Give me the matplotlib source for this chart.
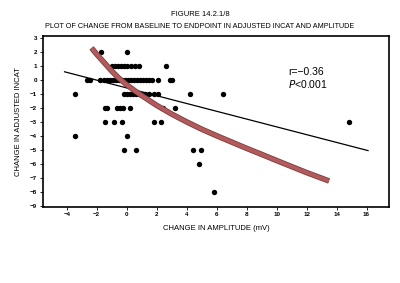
import matplotlib
matplotlib.use("Agg")
import matplotlib.pyplot as plt
import numpy as np

# Scatter points, grouped by INCAT change (y rows)
row_values = [2, 1, 0, -1, -2, -3, -4, -5, -6, -8]
row_x = [
    [-1.73, 0.0],
    [-1.0, -0.8, -0.6, -0.35, -0.15, 0.0, 0.3, 0.55, 0.8, 2.6],
    [-2.65, -2.45, -1.8, -1.5, -1.3, -1.1, -0.9, -0.7, -0.5, -0.3, -0.1, 0.1,
     0.3, 0.5, 0.7, 0.9, 1.1, 1.3, 1.5, 1.7, 2.1, 2.9, 3.0],
    [-3.45, -0.2, 0.0, 0.2, 0.4, 0.6, 0.8, 1.0, 1.2, 1.5, 1.8, 2.1, 4.2, 6.45],
    [-1.45, -1.3, -0.67, -0.45, -0.22, 0.22, 2.4, 3.2],
    [-1.45, -0.83, -0.33, 1.8, 2.3, 14.8],
    [-3.45, 0.0],
    [-0.2, 0.6, 4.45, 4.95],
    [4.85],
    [5.8],
]

# linear regression line endpoints
fit_x = [-4.15, 16.1]
fit_y = [0.6, -5.03]

# fitted curve
curve_x = [-2.35, -2.0, -1.5, -1.0, -0.5, 0.0, 0.5, 1.0, 1.5, 2.0, 3.0, 4.0,
           5.0, 6.0, 7.0, 8.0, 9.0, 10.0, 11.0, 12.0, 13.0, 13.5]
curve_y = [2.3, 1.85, 1.25, 0.65, 0.12, -0.33, -0.73, -1.1, -1.45, -1.8,
           -2.42, -2.98, -3.5, -3.97, -4.42, -4.87, -5.3, -5.74, -6.17,
           -6.6, -7.0, -7.2]

x_ticks = list(range(-4, 17, 2))
y_ticks = list(range(-9, 4))

plt.rcParams['font.family'] = ['Liberation Sans', 'DejaVu Sans']

fig = plt.figure(figsize=(4.0, 2.83), dpi=100)
ax = fig.add_axes([0.107, 0.270, 0.8655, 0.603])

xs, ys = [], []
for v, xr in zip(row_values, row_x):
    xs += xr
    ys += [v] * len(xr)
ax.scatter(xs, ys, s=15, color='black', zorder=3, linewidths=0)

ax.plot(fit_x, fit_y, color='black', lw=0.9, zorder=4)
ax.plot(curve_x, curve_y, color='#7a3f3f', lw=4.0, solid_capstyle='butt',
        solid_joinstyle='round', zorder=5)
ax.plot(curve_x, curve_y, color='#b35a5c', lw=2.8, solid_capstyle='butt',
        solid_joinstyle='round', zorder=6)

ax.set_xlim(-5.6, 17.5)
ax.set_ylim(-9.03, 3.16)
ax.set_xticks(x_ticks)
ax.set_yticks(y_ticks)
ax.tick_params(labelsize=4.5, length=2, width=0.6, pad=2)
for lab in ax.get_xticklabels() + ax.get_yticklabels():
    lab.set_fontweight('bold')
for sp in ax.spines.values():
    sp.set_linewidth(1.2)

ax.set_xlabel('CHANGE IN AMPLITUDE (mV)', fontsize=5.5, labelpad=6)
ax.set_ylabel('CHANGE IN ADJUSTED INCAT', fontsize=5.5, labelpad=6)

ax.text(10.75, 0.6, 'r=\u22120.36', fontsize=7.5, va='center', ha='left')
ax.text(10.75, -0.3, r'$\mathit{P}$<0.001', fontsize=7.5, va='center', ha='left')

fig.text(0.5, 0.947, 'FIGURE 14.2.1/8', fontsize=5.5, ha='center', va='center')
fig.text(0.5, 0.905, 'PLOT OF CHANGE FROM BASELINE TO ENDPOINT IN ADJUSTED INCAT AND AMPLITUDE',
         fontsize=5.2, ha='center', va='center')

fig.savefig('out.png', dpi=100)
